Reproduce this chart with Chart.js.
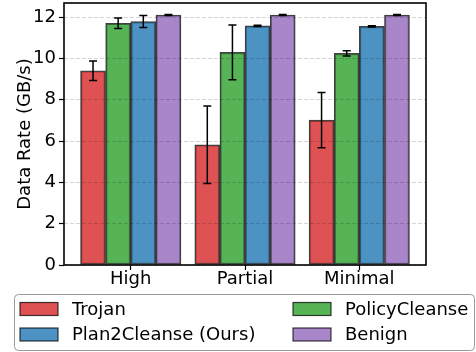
<!DOCTYPE html>
<html>
<head>
<meta charset="utf-8">
<script src="https://cdn.jsdelivr.net/npm/chart.js@4.4.1/dist/chart.umd.min.js"></script>
<style>
  html, body { margin: 0; padding: 0; background: #fff; }
  #wrap { width: 476px; height: 352px; }
</style>
</head>
<body>
<div id="wrap"><canvas id="c" width="476" height="352"></canvas></div>
<script>
// Threat levels on the x axis
const groups = ['High', 'Partial', 'Minimal'];

// Mean data rate (GB/s) per method
const trojan        = [9.40, 5.82, 7.01];
const policyCleanse = [11.70, 10.29, 10.24];
const plan2Cleanse  = [11.78, 11.57, 11.55];
const benign        = [12.10, 12.10, 12.10];

// Standard deviations
const trojanErr        = [0.47, 1.88, 1.34];
const policyCleanseErr = [0.25, 1.32, 0.13];
const plan2CleanseErr  = [0.29, 0.03, 0.03];
const benignErr        = [0.02, 0.02, 0.02];

const yTicks = [0, 2, 4, 6, 8, 10, 12];

const FONT = { family: '"DejaVu Sans", sans-serif', size: 18 };

const series = [
  { label: 'Trojan',              mean: trojan,        err: trojanErr,        color: 'rgba(214,39,40,0.8)',  offset: -0.33 },
  { label: 'PolicyCleanse',       mean: policyCleanse, err: policyCleanseErr, color: 'rgba(44,160,44,0.8)',  offset: -0.11 },
  { label: 'Plan2Cleanse (Ours)', mean: plan2Cleanse,  err: plan2CleanseErr,  color: 'rgba(31,119,180,0.8)', offset: 0.11 },
  { label: 'Benign',              mean: benign,        err: benignErr,        color: 'rgba(148,103,189,0.8)', offset: 0.33 }
];

const datasets = series.map(s => ({
  label: s.label,
  data: s.mean.map((v, i) => ({ x: i + s.offset, y: v })),
  errors: s.err,
  backgroundColor: s.color,
  borderColor: 'rgba(0,0,0,0.75)',
  borderWidth: 1.5,
  borderSkipped: false,
  barThickness: 25,
  grouped: false
}));

// Error bars with caps, drawn above bars and grid
const errorBars = {
  id: 'errorBars',
  afterDraw(chart) {
    const { ctx } = chart;
    const yScale = chart.scales.y;
    ctx.save();
    ctx.strokeStyle = '#000';
    ctx.lineWidth = 1.5;
    chart.data.datasets.forEach((ds, di) => {
      const meta = chart.getDatasetMeta(di);
      meta.data.forEach((bar, i) => {
        const v = ds.data[i].y, e = ds.errors[i];
        const x = bar.x;
        const yTop = yScale.getPixelForValue(v + e);
        const yBot = yScale.getPixelForValue(v - e);
        ctx.beginPath();
        ctx.moveTo(x, yTop); ctx.lineTo(x, yBot);
        ctx.moveTo(x - 4, yTop); ctx.lineTo(x + 4, yTop);
        ctx.moveTo(x - 4, yBot); ctx.lineTo(x + 4, yBot);
        ctx.stroke();
      });
    });
    ctx.restore();
  }
};

// Axes frame on all four sides
const frame = {
  id: 'frame',
  afterDraw(chart) {
    const { ctx, chartArea: a } = chart;
    ctx.save();
    ctx.strokeStyle = '#000';
    ctx.lineWidth = 1.6;
    ctx.strokeRect(a.left, a.top, a.right - a.left, a.bottom - a.top);
    ctx.restore();
  }
};

// Two-column legend box below the plot
const legendBox = {
  id: 'legendBox',
  afterDraw(chart) {
    const { ctx } = chart;
    const bx = 14.5, by = 294.5, bw = 460, bh = 56, r = 4;
    ctx.save();
    ctx.fillStyle = 'rgba(255,255,255,0.8)';
    ctx.strokeStyle = '#999';
    ctx.lineWidth = 1;
    ctx.beginPath();
    ctx.moveTo(bx + r, by);
    ctx.lineTo(bx + bw - r, by); ctx.arcTo(bx + bw, by, bx + bw, by + r, r);
    ctx.lineTo(bx + bw, by + bh - r); ctx.arcTo(bx + bw, by + bh, bx + bw - r, by + bh, r);
    ctx.lineTo(bx + r, by + bh); ctx.arcTo(bx, by + bh, bx, by + bh - r, r);
    ctx.lineTo(bx, by + r); ctx.arcTo(bx, by, bx + r, by, r);
    ctx.closePath();
    ctx.fill(); ctx.stroke();

    const cols = [20, 293];
    const rows = [309, 334.5];
    ctx.font = `${FONT.size}px ${FONT.family}`;
    ctx.textBaseline = 'middle';
    ctx.textAlign = 'left';
    chart.data.datasets.forEach((ds, i) => {
      const x = cols[i % 2], y = rows[Math.floor(i / 2)];
      ctx.fillStyle = ds.backgroundColor;
      ctx.fillRect(x, y - 6.5, 38, 13);
      ctx.strokeStyle = 'rgba(0,0,0,0.75)';
      ctx.lineWidth = 1.2;
      ctx.strokeRect(x, y - 6.5, 38, 13);
      ctx.fillStyle = '#000';
      ctx.fillText(ds.label, x + 52, y + 1);
    });
    ctx.restore();
  }
};

new Chart(document.getElementById('c'), {
  type: 'bar',
  data: { datasets },
  plugins: [errorBars, frame, legendBox],
  options: {
    responsive: false,
    animation: false,
    layout: { padding: { left: 0, right: 50, top: 3, bottom: 60 } },
    plugins: { legend: { display: false }, tooltip: { enabled: false } },
    scales: {
      x: {
        type: 'linear',
        offset: false,
        min: -0.584,
        max: 2.584,
        afterBuildTicks: s => { s.ticks = groups.map((g, i) => ({ value: i })); },
        afterFit: s => { s.height = 27; s.paddingLeft = 0; s.paddingRight = 0; },
        ticks: {
          color: '#000',
          font: FONT,
          padding: -1,
          maxRotation: 0,
          autoSkip: false,
          callback: v => groups[v]
        },
        grid: { offset: false, drawOnChartArea: false, drawTicks: true, tickLength: 5, tickColor: '#000', tickWidth: 1.2 },
        border: { display: false }
      },
      y: {
        min: 0,
        max: 12.68,
        afterBuildTicks: s => { s.ticks = yTicks.map(v => ({ value: v })); },
        afterFit: s => { s.width = 64; s.paddingTop = 0; s.paddingBottom = 0; },
        ticks: { color: '#000', font: FONT, padding: 3 },
        title: {
          display: true,
          text: 'Data Rate (GB/s)',
          color: '#000',
          font: FONT,
          padding: { top: 15, bottom: 0 }
        },
        grid: {
          z: 1,
          color: 'rgba(0,0,0,0.16)',
          lineWidth: 1,
          drawTicks: true,
          tickLength: 5,
          tickColor: '#000',
          tickWidth: 1.2,
          tickBorderDash: []
        },
        border: { display: false, dash: [4, 2] }
      }
    }
  }
});
</script>
</body>
</html>
